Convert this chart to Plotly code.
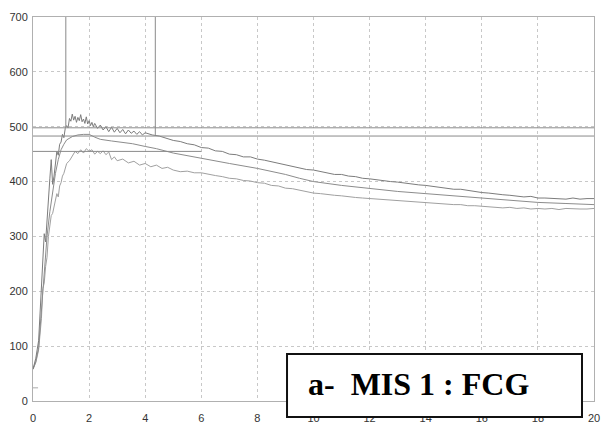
import plotly.graph_objects as go

# Time axis (h) and the three recorded envelopes: max, mean, min
x_upper = [0.0, 0.1, 0.2, 0.3, 0.35, 0.4, 0.45, 0.5, 0.55, 0.6, 0.65, 0.7, 0.75, 0.8, 0.85, 0.9, 0.95,
           1.0, 1.05, 1.1, 1.15, 1.2, 1.25, 1.3, 1.35, 1.4, 1.45, 1.5, 1.55, 1.6, 1.65, 1.7, 1.75, 1.8,
           1.85, 1.9, 1.95, 2.0, 2.05, 2.1, 2.15, 2.2, 2.3, 2.4, 2.5, 2.6, 2.7, 2.8, 2.9, 3.0, 3.1, 3.2,
           3.3, 3.4, 3.5, 3.6, 3.7, 3.8, 3.9, 4.0, 4.25, 4.5, 4.75, 5.0, 5.25, 5.5, 5.75, 6.0, 6.25,
           6.5, 6.75, 7.0, 7.25, 7.5, 7.75, 8.0, 8.25, 8.5, 8.75, 9.0, 9.25, 9.5, 9.75, 10.0, 10.25,
           10.5, 10.75, 11.0, 11.25, 11.5, 11.75, 12.0, 12.25, 12.5, 12.75, 13.0, 13.25, 13.5, 13.75,
           14.0, 14.25, 14.5, 14.75, 15.0, 15.25, 15.5, 15.75, 16.0, 16.25, 16.5, 16.75, 17.0, 17.25,
           17.5, 17.75, 18.0, 18.25, 18.5, 18.75, 19.0, 19.25, 19.5, 19.75, 20.0]
y_upper = [58, 78, 110, 205, 250, 305, 290, 335, 380, 405, 440, 395, 410, 440, 455, 448, 468,
           472, 486, 480, 497, 502, 498, 515, 510, 523, 512, 519, 508, 517, 511, 522, 509, 514,
           506, 518, 505, 511, 502, 508, 500, 506, 497, 503, 494, 500, 491, 499, 490, 497, 489, 495,
           487, 494, 488, 492, 486, 491, 485, 489, 485, 483, 479, 475, 473, 469, 467, 462, 461,
           456, 455, 450, 449, 445, 445, 441, 439, 436, 433, 430, 428, 424, 422, 421, 418,
           416, 413, 413, 410, 409, 406, 405, 403, 402, 400, 399, 397, 395, 394,
           393, 391, 390, 388, 386, 386, 384, 381, 380, 379, 377, 376, 375, 374,
           372, 373, 370, 370, 369, 369, 368, 370, 368, 369, 369]

x_mean = [0.0, 0.1, 0.2, 0.3, 0.4, 0.5, 0.6, 0.7, 0.8, 0.9, 1.0, 1.1, 1.2, 1.4, 1.6, 1.8, 2.0,
          2.2, 2.4, 2.8, 3.2, 3.55, 4.0, 4.4, 5.0, 5.5, 6.0, 7.0, 8.0, 9.0, 9.5, 10.0, 11.0, 12.0,
          13.0, 14.0, 15.0, 16.0, 17.0, 18.0, 19.0, 20.0]
y_mean = [58, 72, 97, 165, 245, 300, 345, 385, 415, 440, 458, 468, 476, 482, 485, 486, 486,
          481, 477, 474, 471, 469, 464, 460, 452, 447, 443, 433, 424, 413, 406, 400, 393, 387,
          382, 378, 374, 371, 366, 362, 360, 358]

x_lower = [0.0, 0.1, 0.2, 0.3, 0.35, 0.4, 0.45, 0.5, 0.55, 0.6, 0.65, 0.7, 0.75, 0.8, 0.85, 0.9,
           0.95, 1.0, 1.05, 1.1, 1.15, 1.2, 1.3, 1.4, 1.5, 1.6, 1.7, 1.8, 1.9, 2.0, 2.1, 2.2, 2.3,
           2.4, 2.5, 2.6, 2.7, 2.8, 2.9, 3.0, 3.2, 3.4, 3.6, 3.8, 4.0, 4.2, 4.4, 4.6, 4.8, 5.0,
           5.25, 5.5, 5.75, 6.0, 6.25, 6.5, 6.75, 7.0, 7.25, 7.5, 7.75, 8.0, 8.25, 8.5, 8.75, 9.0,
           9.25, 9.5, 9.75, 10.0, 10.25, 10.5, 10.75, 11.0, 11.25, 11.5, 11.75, 12.0, 12.25, 12.5,
           12.75, 13.0, 13.25, 13.5, 13.75, 14.0, 14.25, 14.5, 14.75, 15.0, 15.25, 15.5, 15.75,
           16.0, 16.25, 16.5, 16.75, 17.0, 17.25, 17.5, 17.75, 18.0, 18.25, 18.5, 18.75, 19.0,
           19.25, 19.5, 19.75, 20.0]
y_lower = [58, 70, 93, 150, 205, 215, 245, 262, 300, 320, 338, 342, 355, 368, 378, 372,
           392, 398, 410, 415, 425, 433, 438, 446, 455, 451, 458, 452, 460, 455, 458, 450, 455,
           451, 456, 449, 454, 440, 445, 438, 441, 434, 437, 430, 433, 427, 430, 424, 426, 421,
           418, 419, 416, 416, 413, 411, 409, 406, 405, 402, 401, 398, 397, 393, 392, 388,
           387, 384, 382, 379, 378, 376, 375, 374, 372, 371, 370, 369, 368, 367,
           366, 365, 365, 363, 363, 362, 361, 360, 359, 358, 358, 356, 356,
           355, 354, 354, 352, 353, 351, 352, 350, 351, 350, 351, 349, 351,
           350, 350, 350, 351]

# Horizontal reference levels and where each one ends on the time axis
ref_levels = [498, 483, 455]
ref_ends = [20, 20, 6.0]
# Vertical cursor markers: time and lower end of each
cursor_x = [1.17, 4.36]
cursor_bottom = [500, 485]

x_ticks = [0, 2, 4, 6, 8, 10, 12, 14, 16, 18, 20]
y_ticks = [0, 100, 200, 300, 400, 500, 600, 700]

panel_label = "a-&nbsp;&nbsp;MIS 1 : FCG"

fig = go.Figure()

fig.add_trace(go.Scatter(x=x_lower, y=y_lower, mode="lines",
                         line=dict(color="#a0a0a0", width=1), showlegend=False))
fig.add_trace(go.Scatter(x=x_mean, y=y_mean, mode="lines",
                         line=dict(color="#8c8c8c", width=1), showlegend=False))
fig.add_trace(go.Scatter(x=x_upper, y=y_upper, mode="lines",
                         line=dict(color="#7c7c7c", width=1), showlegend=False))

for lvl, end in zip(ref_levels, ref_ends):
    fig.add_trace(go.Scatter(x=[0, end], y=[lvl, lvl], mode="lines",
                             line=dict(color="#8a8a8a", width=1), showlegend=False,
                             hoverinfo="skip"))
for cx, cb in zip(cursor_x, cursor_bottom):
    fig.add_trace(go.Scatter(x=[cx, cx], y=[cb, 700], mode="lines",
                             line=dict(color="#8a8a8a", width=1), showlegend=False,
                             hoverinfo="skip"))
# short baseline tick near the origin
fig.add_trace(go.Scatter(x=[0, 0.18], y=[24, 24], mode="lines",
                         line=dict(color="#aaaaaa", width=1), showlegend=False,
                         hoverinfo="skip"))

axis_common = dict(
    showgrid=True, gridcolor="#c8c8c8", griddash="dot", gridwidth=1,
    showline=True, linecolor="#b0b0b0", linewidth=1, mirror=True,
    zeroline=False, ticks="", automargin=False,
    tickfont=dict(family="Liberation Sans, Arial, sans-serif", size=11, color="#333333"),
)

fig.update_xaxes(range=[0, 20], tickmode="array", tickvals=x_ticks, ticklabelstandoff=7,
                 ticklabeloverflow="allow", **axis_common)
fig.update_yaxes(range=[0, 700], tickmode="array", tickvals=y_ticks, ticklabelstandoff=2,
                 **axis_common)

# framed panel label overlapping the bottom axis
fig.add_shape(type="rect", xref="paper", yref="paper",
              x0=0.4528, x1=0.9786, y0=-0.0417, y1=0.1224,
              line=dict(color="#111111", width=2), fillcolor="white", layer="above")
fig.add_annotation(xref="paper", yref="paper", x=0.6863, y=0.045,
                   text=panel_label, showarrow=False,
                   font=dict(family="Liberation Serif, Times New Roman, serif",
                             size=32, color="#000000", weight="bold"),
                   xanchor="center", yanchor="middle")

fig.update_layout(
    width=601, height=429,
    margin=dict(l=33, r=7, t=17, b=28),
    paper_bgcolor="white", plot_bgcolor="white",
    showlegend=False,
)

fig.write_html("out.html")
